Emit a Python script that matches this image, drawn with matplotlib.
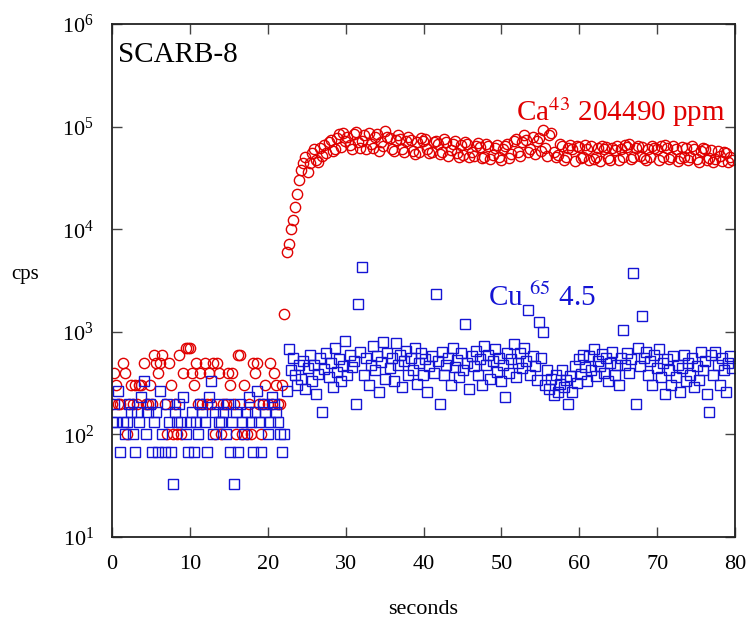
import numpy as np
import matplotlib
matplotlib.use("Agg")
import matplotlib.pyplot as plt
from matplotlib.ticker import LogLocator, NullLocator, MultipleLocator

plt.rcParams["font.family"] = ["Liberation Serif", "DejaVu Serif"]
plt.rcParams["mathtext.fontset"] = "stix"

# sampling interval of the acquisition (seconds)
dt = 0.27

# Ca43 counts per second: background, ablation onset, plateau (thousands)
ca_background = [
    200, 400, 300, 200, 200, 500, 400, 100, 200, 300,
    200, 300, 200, 300, 300, 500, 200, 200, 300, 200,
    600, 500, 400, 500, 600, 200, 100, 500, 300, 100,
    200, 100, 600, 100, 400, 700, 700, 700, 400, 300,
    500, 200, 400, 200, 500, 200, 400, 200, 500, 100,
    500, 400, 100, 200, 200, 400, 300, 400, 200, 100,
    600, 600, 100, 300, 100, 200, 100, 500, 400, 500,
    200, 100, 200, 300, 200, 500, 200, 400, 300, 200,
    200, 300,
]
ca_rise = [1500, 6000, 7200, 10000, 12300, 16400, 22000, 30000, 38000, 44000]
ca_plateau_k = [
    50, 36, 44, 55, 60, 47, 45, 62, 52, 66,
    55, 70, 74, 58, 60, 78, 84, 63, 86, 72,
    80, 66, 60, 84, 88, 70, 62, 72, 82, 60,
    86, 68, 62, 80, 84, 58, 70, 64, 90, 80,
    78, 60, 58, 74, 82, 76, 60, 56, 72, 79,
    74, 58, 54, 70, 57, 77, 72, 75, 60, 55,
    57, 70, 73, 68, 54, 56, 75, 71, 52, 59,
    68, 72, 55, 51, 66, 53, 70, 67, 50, 56,
    52, 65, 69, 63, 49, 50, 67, 64, 48, 53,
    62, 66, 50, 47, 60, 64, 68, 49, 54, 72,
    76, 57, 52, 70, 82, 74, 56, 60, 80, 54,
    72, 78, 58, 93, 62, 52, 82, 87, 56, 50,
    53, 68, 65, 47, 50, 62, 66, 60, 46, 64,
    63, 49, 51, 66, 61, 47, 64, 48, 50, 62,
    46, 65, 60, 63, 49, 47, 62, 59, 64, 47,
    61, 50, 66, 63, 68, 48, 51, 62, 65, 52,
    63, 49, 47, 60, 50, 65, 62, 61, 47, 64,
    50, 66, 62, 48, 51, 64, 61, 46, 49, 63,
    51, 62, 47, 50, 64, 60, 48, 45, 58, 62,
    60, 47, 49, 59, 45, 48, 58, 52, 46, 57,
    55, 45, 50, 47,
]

# Cu65 counts per second
cu_background = [
    133, 200, 133, 267, 67, 133, 100, 133, 200, 167,
    100, 67, 167, 133, 233, 333, 100, 167, 200, 67,
    133, 167, 67, 267, 100, 67, 200, 133, 67, 33,
    167, 133, 200, 133, 233, 100, 67, 133, 167, 67,
    133, 100, 200, 167, 133, 67, 233, 333, 100, 167,
    200, 133, 133, 167, 100, 200, 67, 133, 33, 167,
    67, 200, 133, 100, 167, 233, 133, 67, 167, 267,
    133, 67, 200, 167, 100, 133, 233, 200, 167, 133,
    100, 67, 100, 267,
]
cu_plateau = [
    680, 420, 560, 380, 300, 470, 350, 520, 280, 440,
    600, 330, 480, 250, 390, 560, 165, 430, 620, 360,
    500, 290, 700, 410, 540, 330, 460, 820, 380, 600,
    450, 520, 200, 1850, 640, 4300, 380, 560, 300, 480,
    720, 420, 580, 260, 510, 800, 350, 620, 440, 560,
    330, 780, 470, 600, 290, 520, 650, 380, 560, 420,
    700, 310, 500, 620, 380, 540, 260, 460, 580, 400,
    2350, 520, 200, 640, 380, 470, 560, 300, 700, 450,
    530, 360, 620, 420, 1190, 500, 280, 580, 460, 650,
    380, 540, 300, 720, 470, 590, 350, 520, 680, 410,
    560, 330, 480, 230, 620, 400, 540, 760, 360, 500,
    620, 440, 700, 520, 1620, 380, 580, 460, 340, 1240,
    560, 990, 300, 420, 280, 350, 240, 380, 260, 310,
    420, 290, 340, 200, 370, 260, 460, 320, 540, 390,
    600, 450, 330, 580, 420, 680, 370, 520, 460, 610,
    400, 560, 330, 500, 640, 380, 470, 300, 560, 1050,
    480, 620, 400, 540, 3740, 200, 700, 460, 1430, 560,
    640, 380, 520, 300, 600, 440, 680, 360, 500, 250,
    540, 420, 300, 580, 360, 480, 260, 440, 600, 330,
    500, 380, 560, 290, 460, 340, 640, 420, 520, 250,
    165, 600, 380, 640, 480, 300, 560, 420, 260, 500,
    580, 440,
]

ca = np.array(ca_background + ca_rise + [v * 1000 for v in ca_plateau_k], dtype=float)
cu = np.array(cu_background + cu_plateau, dtype=float)
t_ca = np.arange(len(ca)) * dt
t_cu = np.arange(len(cu)) * dt

red = "#e00000"
blue = "#1414d4"

fig = plt.figure(figsize=(7.47, 6.27), dpi=100)
ax = fig.add_axes([112 / 747, 1 - 537 / 627, 623 / 747, 513 / 627])

ax.plot(t_ca, ca, ls="none", marker="o", ms=7.4, mfc="none", mec=red, mew=1.0)
ax.plot(t_cu, cu, ls="none", marker="s", ms=6.6, mfc="none", mec=blue, mew=1.0)

ax.set_yscale("log")
ax.set_xlim(0, 80)
ax.set_ylim(10, 1e6)
ax.xaxis.set_major_locator(MultipleLocator(10))
ax.yaxis.set_major_locator(LogLocator(base=10, numticks=10))
ax.yaxis.set_minor_locator(NullLocator())
ax.tick_params(which="major", direction="in", length=7.5, width=1.0,
               color="#444444", top=True, right=True, labelsize=16, pad=13)
for s in ax.spines.values():
    s.set_linewidth(1.3)
    s.set_color("#222222")

fig.text(25 / 747, 1 - 275 / 627, "cps", fontsize=15, ha="center", va="center")
fig.text(423 / 747, 1 - 610 / 627, "seconds", fontsize=16, ha="center", va="center")

ax.text(0.01, 0.965, "SCARB-8", transform=ax.transAxes, fontsize=21,
        ha="left", va="top")
ax.text(0.985, 0.81, r"Ca$^{43}$ 204490 ppm", transform=ax.transAxes,
        fontsize=21, color=red, ha="right", va="baseline")
ax.text(0.603, 0.45, r"Cu $^{65}$ 4.5", transform=ax.transAxes,
        fontsize=21, color=blue, ha="left", va="baseline")

fig.savefig("out.png", dpi=100)
